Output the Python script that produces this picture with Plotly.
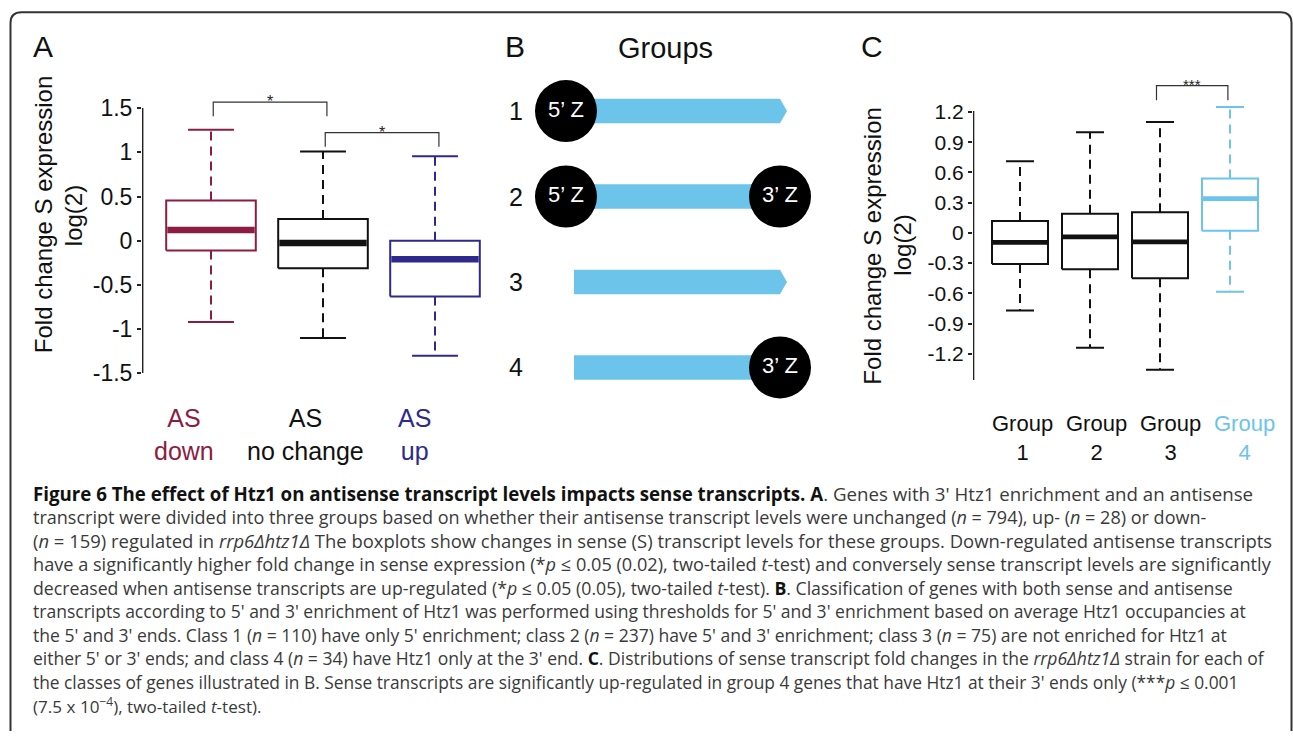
import plotly.graph_objects as go

W, H = 1293, 744
FONT = "Liberation Sans, Arial, Helvetica, sans-serif"
CAP_FONT = "Open Sans, Liberation Sans, sans-serif"

# ---------------- Panel A data ----------------
a_labels = ["AS<br>down", "AS<br>no change", "AS<br>up"]
a_lo = [-0.92, -1.10, -1.30]
a_q1 = [-0.11, -0.31, -0.63]
a_med = [0.12, -0.025, -0.21]
a_q3 = [0.455, 0.245, 0.00]
a_hi = [1.255, 1.01, 0.955]
a_colors = ["#8C1D42", "#111111", "#2E2A8C"]
a_ticks = [-1.5, -1, -0.5, 0, 0.5, 1, 1.5]
a_ticktext = ["-1.5", "-1", "-0.5", "0", "0.5", "1", "1.5"]
a_sig_pairs = [(0, 1), (1, 2)]
a_sig_text = ["*", "*"]
a_sig_top = [1.567, 1.222]

# ---------------- Panel B data ----------------
b_groups = [1, 2, 3, 4]
b_has5 = [True, True, False, False]
b_has3 = [False, True, False, True]

# ---------------- Panel C data ----------------
c_labels = ["Group<br>1", "Group<br>2", "Group<br>3", "Group<br>4"]
c_lo = [-0.77, -1.14, -1.36, -0.585]
c_q1 = [-0.31, -0.36, -0.45, 0.02]
c_med = [-0.095, -0.04, -0.09, 0.34]
c_q3 = [0.117, 0.19, 0.205, 0.54]
c_hi = [0.71, 1.00, 1.10, 1.25]
c_colors = ["#111111", "#111111", "#111111", "#6CC4EA"]
c_ticks = [-1.2, -0.9, -0.6, -0.3, 0, 0.3, 0.6, 0.9, 1.2]
c_ticktext = ["-1.2", "-0.9", "-0.6", "-0.3", "0", "0.3", "0.6", "0.9", "1.2"]
c_sig_pairs = [(2, 3)]
c_sig_text = ["***"]
c_sig_top = [1.463]

# ---------------- Caption ----------------
BK = "<b><span style='color:#111'>{}</span></b>"
caption_lines = [
    BK.format("Figure 6 The effect of Htz1 on antisense transcript levels impacts sense transcripts. A") + ". Genes with 3' Htz1 enrichment and an antisense",
    "transcript were divided into three groups based on whether their antisense transcript levels were unchanged (<i>n</i> = 794), up- (<i>n</i> = 28) or down-",
    "(<i>n</i> = 159) regulated in <i>rrp6Δhtz1Δ</i> The boxplots show changes in sense (S) transcript levels for these groups. Down-regulated antisense transcripts",
    "have a significantly higher fold change in sense expression (*<i>p</i> ≤ 0.05 (0.02), two-tailed <i>t</i>-test) and conversely sense transcript levels are significantly",
    "decreased when antisense transcripts are up-regulated (*<i>p</i> ≤ 0.05 (0.05), two-tailed <i>t</i>-test). " + BK.format("B") + ". Classification of genes with both sense and antisense",
    "transcripts according to 5' and 3' enrichment of Htz1 was performed using thresholds for 5' and 3' enrichment based on average Htz1 occupancies at",
    "the 5' and 3' ends. Class 1 (<i>n</i> = 110) have only 5' enrichment; class 2 (<i>n</i> = 237) have 5' and 3' enrichment; class 3 (<i>n</i> = 75) are not enriched for Htz1 at",
    "either 5' or 3' ends; and class 4 (<i>n</i> = 34) have Htz1 only at the 3' end. " + BK.format("C") + ". Distributions of sense transcript fold changes in the <i>rrp6Δhtz1Δ</i> strain for each of",
    "the classes of genes illustrated in B. Sense transcripts are significantly up-regulated in group 4 genes that have Htz1 at their 3' ends only (***<i>p</i> ≤ 0.001",
    "(7.5 x 10<sup>−4</sup>), two-tailed <i>t</i>-test).",
]
# per-line font sizes so each line spans the same width as in the reference
caption_sizes = [18.7, 18.05, 18.45, 18.15, 17.7, 17.55, 17.55, 17.55, 17.35, 17.1]


def px(x):
    return x / W


def py(y):
    return 1 - y / H


fig = go.Figure()


def add_boxes(xa, ya, lo, q1, med, q3, hi, colors, half, cap, medw, lw):
    for i in range(len(lo)):
        c = colors[i]
        x0, x1 = i - half, i + half
        common = dict(xaxis=xa, yaxis=ya, hoverinfo="skip", showlegend=False)
        fig.add_trace(go.Scatter(x=[i, i, None, i, i], y=[q3[i], hi[i], None, q1[i], lo[i]],
                                 mode="lines", line=dict(color=c, width=lw, dash="9px,6px"), **common))
        fig.add_trace(go.Scatter(x=[i - cap, i + cap, None, i - cap, i + cap],
                                 y=[hi[i], hi[i], None, lo[i], lo[i]],
                                 mode="lines", line=dict(color=c, width=lw), **common))
        fig.add_trace(go.Scatter(x=[x0, x1, x1, x0, x0], y=[q1[i], q1[i], q3[i], q3[i], q1[i]],
                                 mode="lines", fill="toself", fillcolor="white",
                                 line=dict(color=c, width=lw), **common))
        fig.add_trace(go.Scatter(x=[x0 + 0.01, x1 - 0.01], y=[med[i], med[i]], mode="lines",
                                 line=dict(color=c, width=medw), **common))


def add_brackets(xa, ya, pairs, texts, tops, leg, off_l, off_r, tsize, tshift):
    for (i, j), t, top in zip(pairs, texts, tops):
        fig.add_trace(go.Scatter(x=[i + off_l, i + off_l, j + off_r, j + off_r],
                                 y=[top - leg, top, top, top - leg], mode="lines",
                                 line=dict(color="#333333", width=1.2),
                                 xaxis=xa, yaxis=ya, hoverinfo="skip", showlegend=False))
        fig.add_annotation(x=(i + j) / 2 + (off_l + off_r) / 2, y=top, xref=xa, yref=ya,
                           text=t, showarrow=False, xanchor="center", yanchor="bottom", yshift=tshift,
                           font=dict(size=tsize, color="#222", family=FONT))


# ---------------- Panel A ----------------
ax_x_range = [(142 - 211) / 112, (500 - 211) / 112]
add_boxes("x", "y", a_lo, a_q1, a_med, a_q3, a_hi, a_colors, 0.40, 0.205, 6.5, 2)
add_brackets("x", "y", a_sig_pairs, a_sig_text, a_sig_top, 0.16, 0.02, 0.035, 16, -10)
fig.add_trace(go.Scatter(x=[ax_x_range[0] + 0.006] * 2, y=[a_ticks[0], a_ticks[-1]], mode="lines",
                         line=dict(color="#222", width=1.5), xaxis="x", yaxis="y",
                         hoverinfo="skip", showlegend=False))
a_lab_off = [-0.24, -0.16, -0.18]
for i, lab in enumerate(a_labels):
    fig.add_annotation(x=i + a_lab_off[i], y=py(442), xref="x", yref="paper", text=lab, showarrow=False,
                       xanchor="center", yanchor="middle",
                       font=dict(size=25, color=a_colors[i], family=FONT))

# ---------------- Panel C ----------------
cx_range = [(973 - 1020) / 70, (1290 - 1020) / 70]
add_boxes("x2", "y2", c_lo, c_q1, c_med, c_q3, c_hi, c_colors, 0.40, 0.20, 4.8, 2)
add_brackets("x2", "y2", c_sig_pairs, c_sig_text, c_sig_top, 0.146, -0.05, -0.03, 15, -9)
fig.add_trace(go.Scatter(x=[cx_range[0] + 0.008] * 2, y=[-1.463, 1.21], mode="lines",
                         line=dict(color="#222", width=1.5), xaxis="x2", yaxis="y2",
                         hoverinfo="skip", showlegend=False))
for i, lab in enumerate(c_labels):
    fig.add_annotation(x=i + 0.03 + 0.06 * i, y=py(445.5), xref="x2", yref="paper", text=lab,
                       showarrow=False, xanchor="center", yanchor="middle",
                       font=dict(size=22, color=c_colors[i], family=FONT))

# ---------------- Panel B ----------------
BAR_H = 0.144
TIP = 0.034
C5 = -0.039
for g, h5, h3 in zip(b_groups, b_has5, b_has3):
    if h3:
        xs = [0, 1, 1, 0, 0]
        ys = [g - BAR_H, g - BAR_H, g + BAR_H, g + BAR_H, g - BAR_H]
    else:
        xs = [0, 1, 1 + TIP, 1, 0, 0]
        ys = [g - BAR_H, g - BAR_H, g, g + BAR_H, g + BAR_H, g - BAR_H]
    fig.add_trace(go.Scatter(x=xs, y=ys, mode="lines", fill="toself", fillcolor="#6CC4EA",
                             line=dict(width=0, color="#6CC4EA"), xaxis="x3", yaxis="y3",
                             hoverinfo="skip", showlegend=False))
    fig.add_annotation(x=-0.28, y=g, xref="x3", yref="y3", text=str(g), showarrow=False,
                       xanchor="center", yanchor="middle",
                       font=dict(size=25, color="#111", family=FONT))

g5 = [g for g, h in zip(b_groups, b_has5) if h]
g3 = [g for g, h in zip(b_groups, b_has3) if h]
fig.add_trace(go.Scatter(x=[C5] * len(g5), y=g5, mode="markers+text", text=["5’ Z"] * len(g5),
                         textposition="middle center",
                         textfont=dict(color="white", size=22, family=FONT),
                         marker=dict(size=62, color="black", line=dict(width=0)),
                         xaxis="x3", yaxis="y3", hoverinfo="skip", showlegend=False))
fig.add_trace(go.Scatter(x=[1.0] * len(g3), y=g3, mode="markers+text", text=["3’ Z"] * len(g3),
                         textposition="middle center",
                         textfont=dict(color="white", size=22, family=FONT),
                         marker=dict(size=62, color="black", line=dict(width=0)),
                         xaxis="x3", yaxis="y3", hoverinfo="skip", showlegend=False,
                         cliponaxis=False))

# ---------------- Titles / letters ----------------
for txt, x, y, s in [("A", 43, 47, 30), ("B", 515, 47, 30), ("Groups", 665, 49, 29), ("C", 872, 47, 30)]:
    fig.add_annotation(x=px(x), y=py(y), xref="paper", yref="paper", text=txt, showarrow=False,
                       xanchor="center", yanchor="middle",
                       font=dict(size=s, color="#111", family=FONT))

for x, y, t in [(43, 218, "Fold change S expression"), (73, 220, "log(2)"),
                (873, 250, "Fold change S expression"), (903, 250, "log(2)")]:
    fig.add_annotation(x=px(x), y=py(y), xref="paper", yref="paper", text=t, textangle=-90,
                       showarrow=False, xanchor="center", yanchor="middle",
                       font=dict(size=24, color="#111", family=FONT))

# ---------------- Caption ----------------
for k, line in enumerate(caption_lines):
    fig.add_annotation(x=px(31), y=py(502 + 24.0 * k), xref="paper", yref="paper", text=line,
                       showarrow=False, xanchor="left", yanchor="middle", align="left",
                       font=dict(size=caption_sizes[k], color="#3a3a3a", family=CAP_FONT))

# ---------------- Frame ----------------
r = 11
pts = f"M {px(10.5)} {py(744)} L {px(10.5)} {py(12.5 + r)} Q {px(10.5)} {py(12.5)} {px(10.5 + r)} {py(12.5)} " \
      f"L {px(1291.5 - r)} {py(12.5)} Q {px(1291.5)} {py(12.5)} {px(1291.5)} {py(12.5 + r)} L {px(1291.5)} {py(744)}"
fig.add_shape(type="path", path=pts, xref="paper", yref="paper", line=dict(color="#333", width=2))

# ---------------- Layout ----------------
tickfont_a = dict(size=23, color="#111", family=FONT)
tickfont_c = dict(size=21, color="#111", family=FONT)
fig.update_layout(
    width=W, height=H, margin=dict(l=0, r=0, t=0, b=0),
    paper_bgcolor="white", plot_bgcolor="rgba(0,0,0,0)", showlegend=False, hovermode=False,
    xaxis=dict(domain=[px(142), px(500)], range=ax_x_range, visible=False, anchor="y"),
    yaxis=dict(domain=[py(380), py(92)], range=[-1.5, 1.7], anchor="x", tickvals=a_ticks,
               ticktext=a_ticktext, ticks="outside", ticklen=4, tickwidth=1.5, tickcolor="#222",
               showline=False, showgrid=False, zeroline=False, tickfont=tickfont_a),
    xaxis2=dict(domain=[px(973), px(1290)], range=cx_range, visible=False, anchor="y2"),
    yaxis2=dict(domain=[py(387), py(83.25)], range=[-1.463, 1.5], anchor="x2", tickvals=c_ticks,
                ticktext=c_ticktext, ticks="outside", ticklen=4, tickwidth=1.5, tickcolor="#222",
                showline=False, showgrid=False, zeroline=False, tickfont=tickfont_c),
    xaxis3=dict(domain=[px(500), px(830)], range=[(500 - 574) / 206, (830 - 574) / 206],
                visible=False, anchor="y3"),
    yaxis3=dict(domain=[py(420), py(70)], range=[1 + (420 - 113) / 87, 1 + (70 - 113) / 87],
                visible=False, anchor="x3"),
)

fig.write_html("out.html", config={"displayModeBar": False},
               post_script="document.body.style.margin='0';document.body.style.overflow='hidden';")
